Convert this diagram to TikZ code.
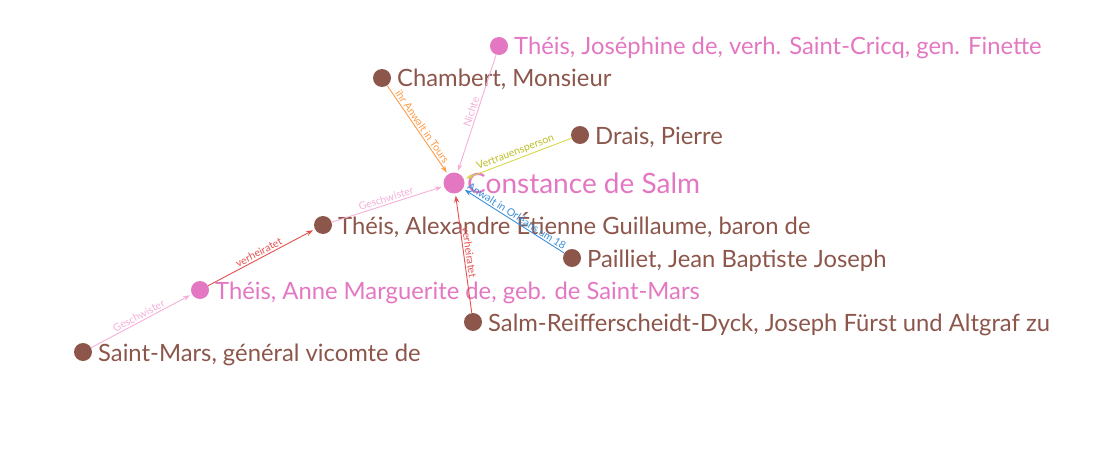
\documentclass[tikz,border=0pt]{standalone}
\usepackage{fontspec}
\setmainfont{Lato}
\usetikzlibrary{arrows.meta}
\definecolor{brn}{HTML}{8C564B}
\definecolor{pnk}{HTML}{E377C2}
\definecolor{eorange}{HTML}{FF9A45}
\definecolor{epink}{HTML}{F4B0D8}
\definecolor{eyellow}{HTML}{D8D84A}
\definecolor{eyellowt}{HTML}{BCBD22}
\definecolor{eblue}{HTML}{3A8FD8}
\definecolor{ered}{HTML}{E4504E}
\begin{document}
\begin{tikzpicture}[x=1pt,y=-1pt,
  person/.style={circle, fill=brn, minimum size=18pt, inner sep=0pt},
  pperson/.style={person, fill=pnk},
  plabel/.style={anchor=base west, text=brn, inner sep=0pt, font=\fontsize{23.8}{27}\selectfont},
  pplabel/.style={plabel, text=pnk},
  rel/.style={-{Stealth[length=7pt,width=5pt]}, line width=0.9pt, shorten >=2pt},
  rlab/.style={sloped, above, inner sep=1.5pt, font=\fontsize{10.5}{12}\selectfont}
]
\useasboundingbox (0,0) rectangle (1117,452);
% persons
\node[pperson, minimum size=21pt] (c) at (454,183) {};
\node[plabel, text=pnk, font=\fontsize{28}{32}\selectfont] (cl) at (467,193) {Constance de Salm};
\node[pperson] (j) at (499,46) {};
\node[pplabel] (jl) at (514,55) {Théis, Joséphine de, verh. Saint-Cricq, gen. Finette};
\node[person] (ch) at (382,78) {};
\node[plabel] (chl) at (397,87) {Chambert, Monsieur};
\node[person] (d) at (580,135) {};
\node[plabel] (dl) at (595,144) {Drais, Pierre};
\node[person] (a) at (323,225) {};
\node[plabel] (al) at (338,234) {Théis, Alexandre Étienne Guillaume, baron de};
\node[person] (p) at (572,258) {};
\node[plabel] (pl) at (587,267) {Pailliet, Jean Baptiste Joseph};
\node[pperson] (am) at (200,290) {};
\node[pplabel] (aml) at (215,299) {Théis, Anne Marguerite de, geb. de Saint-Mars};
\node[person] (s) at (473,322) {};
\node[plabel] (sl) at (488,331) {Salm-Reifferscheidt-Dyck, Joseph Fürst und Altgraf zu};
\node[person] (sm) at (83,352) {};
\node[plabel] (sml) at (98,361) {Saint-Mars, général vicomte de};
% relations
\draw[rel, eorange] (ch) -- node[rlab, text=eorange]{ihr Anwalt in Tours} (c);
\draw[rel, epink] (j) -- node[rlab, text=epink]{Nichte} (c);
\draw[rel, eyellow] (d) -- node[rlab, text=eyellowt]{Vertrauensperson} (c);
\draw[rel, epink] (a) -- node[rlab, text=epink]{Geschwister} (c);
\draw[rel, eblue] (p) -- node[rlab, text=eblue]{Anwalt in Orléans um 18} (c);
\draw[rel, ered] (s) -- node[rlab, text=ered]{verheiratet} (c);
\draw[rel, ered] (am) -- node[rlab, text=ered]{verheiratet} (a);
\draw[rel, epink] (sm) -- node[rlab, text=epink]{Geschwister} (am);
\end{tikzpicture}
\end{document}
